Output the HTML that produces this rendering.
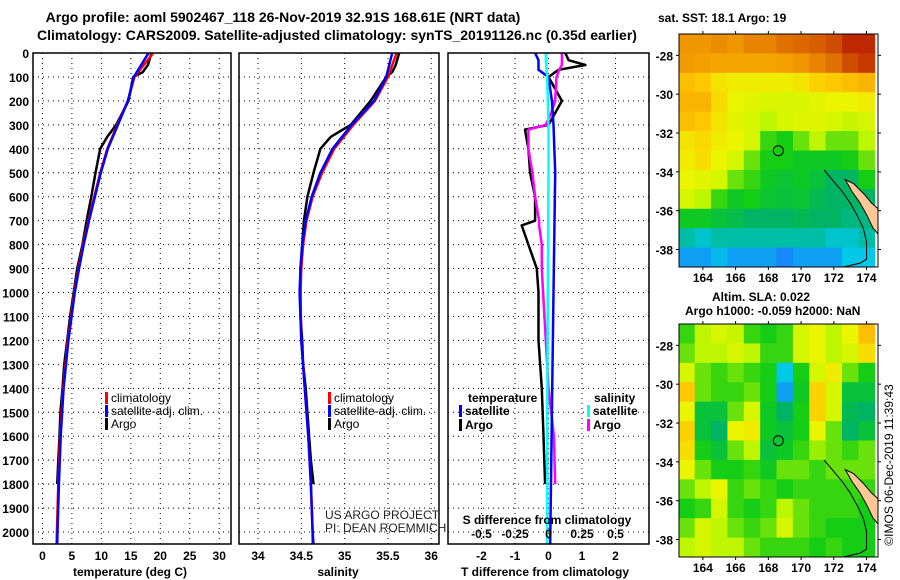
<!DOCTYPE html>
<html><head><meta charset="utf-8"><style>
html,body{margin:0;padding:0;background:#fff;width:900px;height:580px;overflow:hidden}
svg{display:block;font-family:"Liberation Sans",Arial,sans-serif}
.b{font-weight:bold}
</style></head><body>
<svg id="s" width="900" height="580" viewBox="0 0 900 580" xmlns="http://www.w3.org/2000/svg">
<text x="283" y="22" text-anchor="middle" font-size="14" class="b">Argo profile: aoml 5902467_118 26-Nov-2019 32.91S 168.61E (NRT data)</text>
<text x="337" y="40" text-anchor="middle" font-size="14" class="b">Climatology: CARS2009. Satellite-adjusted climatology: synTS_20191126.nc (0.35d earlier)</text>
<g id="g1"></g>
<g id="g2"></g>
<g id="g3"></g>
<g id="m1"></g>
<g id="m2"></g>
<text x="658" y="22" font-size="12" class="b">sat. SST: 18.1 Argo: 19</text>
<text x="712" y="301" font-size="12" class="b">Altim. SLA: 0.022</text>
<text x="685" y="315" font-size="12" class="b">Argo h1000: -0.059 h2000: NaN</text>
<text transform="translate(893,465) rotate(-90)" text-anchor="middle" font-size="12">©IMOS 06-Dec-2019 11:39:43</text>
<text x="325" y="519" font-size="12" fill="#222">US ARGO PROJECT</text>
<text x="325" y="532" font-size="12" fill="#222">PI: DEAN ROEMMICH</text>
</svg>
<script>
// ---- profile data ----
const depthsT = [0,50,80,100,200,300,350,400,500,600,700,800,900,1000,1100,1200,1300,1400,1500,1600,1700,1800];
const tempArgo = [18.5,17.9,17,15.4,14.6,12.5,11,9.8,9,8.3,7.5,6.8,5.9,5.3,4.7,4.2,3.7,3.4,3.05,2.9,2.7,2.5];
const depthsC = [0,100,200,300,400,500,600,700,800,900,1000,1200,1400,1600,1800,2000,2050];
const tempClim = [18.8,15.6,14.5,12.7,11,9.8,8.8,7.8,6.9,6.1,5.4,4.3,3.5,3.0,2.7,2.45,2.4];
const tempSat = [18.0,15.5,14.5,12.8,11.1,9.9,8.9,7.9,7.0,6.2,5.5,4.4,3.6,3.1,2.8,2.55,2.5];
const salArgo = [35.63,35.59,35.55,35.48,35.3,35.07,34.84,34.72,34.64,34.57,34.53,34.51,34.49,34.49,34.49,34.51,34.52,34.55,34.57,34.59,34.61,34.64];
const salClim = [35.6,35.5,35.35,35.1,34.88,34.74,34.63,34.56,34.52,34.5,34.49,34.5,34.54,34.58,34.61,34.63,34.63];
const salSat = [35.55,35.48,35.34,35.08,34.86,34.72,34.62,34.55,34.51,34.49,34.48,34.5,34.54,34.58,34.61,34.63,34.64];
const dDepA = [0,30,50,70,100,200,250,300,320,400,500,600,700,720,800,900,1000,1200,1400,1600,1800];
const tDiffArgo = [0.5,0.6,1.1,0.3,0,0.4,0.2,0,-0.7,-0.6,-0.55,-0.4,-0.4,-0.8,-0.6,-0.35,-0.3,-0.3,-0.2,-0.15,-0.1];
const sDiffArgo = [0.1,0.1,0.1,0.08,0.06,0.05,0.02,-0.02,-0.15,-0.15,-0.12,-0.1,-0.07,-0.07,-0.05,-0.05,-0.04,-0.02,0.0,0.04,0.05];
const dDepS = [0,30,70,100,200,300,500,1000,1500,2050];
const tDiffSat = [-0.4,-0.3,-0.3,0,0.1,0.15,0.2,0.15,0.1,0.05];
const sDiffSat = [-0.02,-0.02,-0.015,-0.01,-0.005,0,0,-0.005,-0.01,-0.01];
const depthTicks = [0,100,200,300,400,500,600,700,800,900,1000,1100,1200,1300,1400,1500,1600,1700,1800,1900,2000];
const tempTicks = [0,5,10,15,20,25,30];
const salTicks = [34,34.5,35,35.5,36];
const tdTicks = [-2,-1,0,1,2];
const sdTicks = [-0.5,-0.25,0,0.25,0.5];
const sdTickLabels = ['-0.5','-0.25','0','0.25','0.5'];
// ---- map data (rows north->south, 1deg lat; cols 1deg lon from 162.5) ----
const sstGrid = [
[.8,.8,.81,.8,.82,.82,.84,.85,.86,.88,.92,.95],
[.79,.78,.77,.77,.77,.77,.78,.8,.82,.84,.88,.9],
[.72,.7,.64,.62,.62,.62,.62,.64,.68,.7,.72,.74],
[.74,.74,.66,.6,.58,.56,.55,.56,.58,.6,.6,.62],
[.72,.7,.64,.58,.55,.5,.55,.58,.58,.55,.52,.55],
[.64,.66,.62,.6,.55,.42,.4,.45,.5,.45,.45,.5],
[.62,.65,.6,.55,.45,.4,.4,.38,.38,.38,.4,.45],
[.6,.58,.55,.45,.42,.38,.36,.38,.35,.3,.3,.4],
[.55,.5,.42,.38,.4,.36,.35,.36,.32,.3,.3,.3],
[.38,.38,.35,.33,.3,.3,.3,.32,.3,.3,.28,.28],
[.25,.22,.25,.25,.25,.25,.25,.25,.25,.22,.22,.25],
[.15,.15,.18,.15,.15,.15,.12,.15,.15,.15,.2,.2]];
const slaGrid = [
[.42,.5,.55,.52,.42,.4,.42,.55,.6,.5,.6,.72],
[.45,.5,.5,.55,.5,.42,.42,.55,.6,.5,.55,.65],
[.55,.45,.42,.45,.42,.4,.2,.4,.55,.62,.45,.4],
[.7,.45,.42,.42,.45,.4,.15,.38,.68,.55,.35,.35],
[.6,.35,.35,.45,.55,.38,.3,.4,.68,.55,.32,.3],
[.68,.35,.3,.6,.62,.38,.35,.4,.6,.45,.3,.35],
[.65,.4,.35,.45,.5,.35,.38,.42,.48,.45,.42,.45],
[.6,.45,.4,.4,.42,.38,.45,.45,.42,.45,.45,.45],
[.45,.5,.6,.42,.45,.42,.4,.42,.42,.42,.42,.42],
[.4,.42,.55,.42,.4,.42,.5,.45,.42,.42,.42,.4],
[.45,.55,.5,.45,.42,.45,.55,.45,.42,.4,.4,.4],
[.5,.55,.5,.5,.45,.42,.42,.42,.4,.42,.4,.4]];
const lonTicks = [164,166,168,170,172,174];
const latTicks = [-28,-30,-32,-34,-36,-38];
const argoLon = 168.61, argoLat = -32.91;
const landLon = [172.7,173.2,173.8,174.3,174.7,174.7,174.4,174.0,173.6,173.1];
const landLat = [-34.4,-34.6,-35.1,-35.6,-35.9,-37.2,-36.9,-36.2,-35.6,-35.0];
const contLon = [171.4,172.0,172.5,173.0,173.4,173.8,174.0,174.0,173.6,172.6];
const contLat = [-33.9,-34.5,-35.0,-35.6,-36.2,-36.9,-37.6,-38.5,-38.7,-38.9];

const NS='http://www.w3.org/2000/svg';
function el(p,t,a){const e=document.createElementNS(NS,t);for(const k in a)e.setAttribute(k,a[k]);p.appendChild(e);return e;}
const T0=53,B0=544;
const Y=d=>T0+(d/2050)*(B0-T0);
function panel(g,x0,x1,xmin,xmax){
  return v=>x0+(v-xmin)/(xmax-xmin)*(x1-x0);
}
function grid(g,x0,x1,X,xt){
  depthTicks.forEach(d=>{const l=el(g,'line',{x1:x0,x2:x1,y1:Y(d),y2:Y(d),stroke:'#000','stroke-dasharray':'1 4'});
    });
  xt.forEach(v=>{const l=el(g,'line',{x1:X(v),x2:X(v),y1:T0,y2:B0,stroke:'#000','stroke-dasharray':'1 4'});
    });
}
function frame(g,x0,x1){const r=el(g,'rect',{x:x0,y:T0,width:x1-x0,height:B0-T0,fill:'none',stroke:'#000','stroke-width':1.5});
  }
function line(g,X,ds,vs,col,w,name){
  const pts=ds.map((d,i)=>X(vs[i]).toFixed(1)+','+Y(d).toFixed(1)).join(' ');
  const p=el(g,'polyline',{points:pts,fill:'none',stroke:col,'stroke-width':w,'stroke-linejoin':'round'});
  
}
function txt(g,x,y,s,a){const t=el(g,'text',Object.assign({x:x,y:y,'font-size':12},a||{}));t.textContent=s;return t;}
function legend(g,x,y,col,s,name,bold){
  const r=el(g,'rect',{x:x,y:y-10,width:3,height:12,fill:col});
  
  const t=txt(g,x+6,y,s,bold?{'font-weight':'bold'}:{});
  
}
// Panel 1
const g1=document.getElementById('g1');
const X1=panel(g1,33,231,-1.6,32);
grid(g1,33,231,X1,tempTicks);
line(g1,X1,depthsT,tempArgo,'#000',2.5,'temp-argo-line');
line(g1,X1,depthsC,tempClim,'#f00',2.5,'temp-climatology-line');
line(g1,X1,depthsC,tempSat,'#00f',2.5,'temp-satellite-line');
frame(g1,33,231);
depthTicks.forEach(d=>{const t=txt(g1,29,Y(d)+5,String(d),{'text-anchor':'end','font-weight':'bold'});
  });
tempTicks.forEach(v=>{const t=txt(g1,X1(v),560,String(v),{'text-anchor':'middle','font-weight':'bold'});
  });
{const t=txt(g1,130,576,'temperature (deg C)',{'text-anchor':'middle','font-weight':'bold'});}
legend(g1,105,402,'#f00','climatology','legend-climatology');
legend(g1,105,415,'#00f','satellite-adj. clim.','legend-satellite');
legend(g1,105,428,'#000','Argo','legend-argo');
// Panel 2
const g2=document.getElementById('g2');
const X2=panel(g2,239,439,33.78,36.09);
grid(g2,239,439,X2,salTicks);
line(g2,X2,depthsT,salArgo,'#000',2.5,'sal-argo-line');
line(g2,X2,depthsC,salClim,'#f00',2.5,'sal-climatology-line');
line(g2,X2,depthsC,salSat,'#00f',2.5,'sal-satellite-line');
frame(g2,239,439);
salTicks.forEach(v=>{const t=txt(g2,X2(v),560,String(v),{'text-anchor':'middle','font-weight':'bold'});
  });
{const t=txt(g2,338,576,'salinity',{'text-anchor':'middle','font-weight':'bold'});}
legend(g2,328,402,'#f00','climatology','legend-s-climatology');
legend(g2,328,415,'#00f','satellite-adj. clim.','legend-s-satellite');
legend(g2,328,428,'#000','Argo','legend-s-argo');
// Panel 3
const g3=document.getElementById('g3');
const X3=panel(g3,448,649,-3,3);
const XS=v=>X3(v*4);
grid(g3,448,649,X3,tdTicks);
line(g3,X3,dDepA,tDiffArgo,'#000',2.5,'tdiff-argo-line');
line(g3,XS,dDepA,sDiffArgo,'#f0f',2.5,'sdiff-argo-line');
line(g3,X3,dDepS,tDiffSat,'#00f',2.5,'tdiff-satellite-line');
line(g3,XS,dDepS,sDiffSat,'#0ff',2.5,'sdiff-satellite-line');
frame(g3,448,649);
tdTicks.forEach(v=>{const t=txt(g3,X3(v),560,String(v),{'text-anchor':'middle','font-weight':'bold'});
  });
sdTicks.forEach((v,i)=>{const t=txt(g3,XS(v),538,sdTickLabels[i],{'text-anchor':'middle','font-weight':'bold'});
  });
{const t=txt(g3,547,524,'S difference from climatology',{'text-anchor':'middle','font-weight':'bold'});}
{const t=txt(g3,545,576,'T difference from climatology',{'text-anchor':'middle','font-weight':'bold'});}
{const t=txt(g3,468,402,'temperature',{'font-weight':'bold'});}
{const t=txt(g3,594,402,'salinity',{'font-weight':'bold'});}
legend(g3,459,415,'#00f','satellite','legend-t-satellite',true);
legend(g3,459,429,'#000','Argo','legend-t-argo',true);
legend(g3,587,415,'#0ff','satellite','legend-sd-satellite',true);
legend(g3,587,429,'#f0f','Argo','legend-sd-argo',true);
// Maps
const stops=[[0.1,[30,120,255]],[0.2,[0,200,230]],[0.3,[0,180,100]],[0.4,[20,205,20]],[0.5,[190,245,0]],[0.6,[235,245,0]],[0.7,[255,200,0]],[0.8,[240,150,0]],[0.92,[190,40,0]]];
function cmap(v){if(v<=stops[0][0])return 'rgb('+stops[0][1]+')';
  for(let i=1;i<stops.length;i++){if(v<=stops[i][0]){const a=stops[i-1],b=stops[i],t=(v-a[0])/(b[0]-a[0]);
    return 'rgb('+a[1].map((c,k)=>Math.round(c+(b[1][k]-c)*t)).join(',')+')';}}
  return 'rgb('+stops[stops.length-1][1]+')';}
function map(id,y0,y1,data,pref){
  const g=document.getElementById(id),x0=679,x1=878;
  const LX=l=>x0+(l-162.54)/(174.7-162.54)*(x1-x0);
  const LY=l=>y0+(-26.9-l)/(12)*(y1-y0);
  data.forEach((row,r)=>row.forEach((v,c)=>{
    const xa=Math.max(x0,LX(162.5+c)),xb=Math.min(x1,LX(163.5+c));
    const ya=r==0?y0:LY(-27-r+0.1);
    const yb=Math.min(y1,LY(-28-r+0.1));
    const rc=el(g,'rect',{x:xa,y:ya,width:xb-xa+0.5,height:yb-ya+0.5,fill:cmap(v)});
    }));
  const land=el(g,'polygon',{points:landLon.map((l,i)=>LX(l)+','+LY(landLat[i])).join(' '),fill:'#ffc896',stroke:'#000','stroke-width':1});
  
  const ct=el(g,'polyline',{points:contLon.map((l,i)=>LX(l)+','+LY(contLat[i])).join(' '),fill:'none',stroke:'#000','stroke-width':1});
  
  const c=el(g,'circle',{cx:LX(argoLon),cy:LY(argoLat),r:5,fill:'none',stroke:'#000','stroke-width':1});
  
  const f=el(g,'rect',{x:x0,y:y0,width:x1-x0,height:y1-y0,fill:'none',stroke:'#000'});
  
  lonTicks.forEach(l=>{el(g,'line',{x1:LX(l),x2:LX(l),y1:y0-3,y2:y0,stroke:'#000'});el(g,'line',{x1:LX(l),x2:LX(l),y1:y1,y2:y1+3,stroke:'#000'});
    const t=txt(g,LX(l),y1+15,String(l),{'text-anchor':'middle','font-weight':'bold'});
    });
  latTicks.forEach(l=>{el(g,'line',{x1:x0-3,x2:x0,y1:LY(l),y2:LY(l),stroke:'#000'});el(g,'line',{x1:x1,x2:x1+3,y1:LY(l),y2:LY(l),stroke:'#000'});
    const t=txt(g,673,LY(l)+5,String(l),{'text-anchor':'end','font-weight':'bold'});
    });
}
map('m1',34,267,sstGrid,'sst');
map('m2',324,557,slaGrid,'sla');
</script>
</body></html>
